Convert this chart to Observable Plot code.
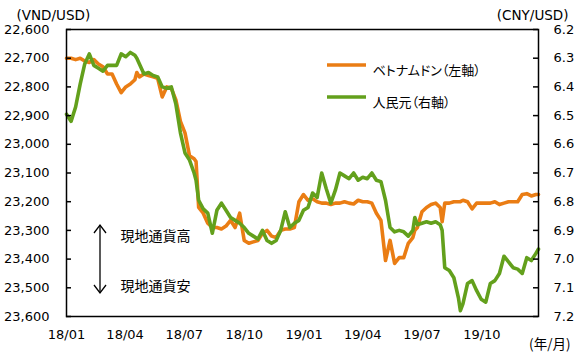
<!DOCTYPE html>
<html>
<head>
<meta charset="utf-8">
<script src="https://cdn.jsdelivr.net/npm/d3@7"></script>
<script src="https://cdn.jsdelivr.net/npm/@observablehq/plot@0.6"></script>
<style>
  html, body { margin: 0; padding: 0; background: #fff; }
  #chart { width: 579px; height: 359px; }
</style>
</head>
<body>
<div id="chart"></div>
<script>
const dates = [
  "2018-01-01","2018-01-08","2018-01-15","2018-01-22","2018-01-29",
  "2018-02-05","2018-02-12","2018-02-19","2018-02-26",
  "2018-03-05","2018-03-12","2018-03-19","2018-03-26",
  "2018-04-02","2018-04-09","2018-04-16","2018-04-19","2018-04-23","2018-04-30",
  "2018-05-07","2018-05-14","2018-05-21","2018-05-28",
  "2018-06-04","2018-06-11","2018-06-18","2018-06-25",
  "2018-07-02","2018-07-09","2018-07-16","2018-07-19","2018-07-23","2018-07-30",
  "2018-08-06","2018-08-13","2018-08-20","2018-08-27",
  "2018-09-03","2018-09-10","2018-09-17","2018-09-24",
  "2018-10-01","2018-10-08","2018-10-15","2018-10-22","2018-10-29",
  "2018-11-05","2018-11-12","2018-11-19","2018-11-26",
  "2018-12-03","2018-12-10","2018-12-17","2018-12-24","2018-12-31",
  "2019-01-07","2019-01-14","2019-01-21","2019-01-28",
  "2019-02-04","2019-02-11","2019-02-18","2019-02-25",
  "2019-03-04","2019-03-11","2019-03-18","2019-03-25",
  "2019-04-01","2019-04-08","2019-04-15","2019-04-22","2019-04-29",
  "2019-05-06","2019-05-13","2019-05-20","2019-05-27",
  "2019-06-03","2019-06-10","2019-06-17","2019-06-20","2019-06-24",
  "2019-07-01","2019-07-08","2019-07-15","2019-07-22","2019-07-29","2019-08-01",
  "2019-08-05","2019-08-12","2019-08-19","2019-08-26","2019-08-29",
  "2019-09-02","2019-09-09","2019-09-16","2019-09-23","2019-09-30",
  "2019-10-07","2019-10-14","2019-10-21","2019-10-28",
  "2019-11-04","2019-11-11","2019-11-18","2019-11-25",
  "2019-12-02","2019-12-09","2019-12-16","2019-12-23","2019-12-27"
];
// ベトナムドン (VND/USD, left axis)
const vnd = [
  22700,22700,22705,22700,22710,
  22715,22705,22720,22730,
  22755,22755,22790,22820,
  22800,22790,22775,22750,22765,22755,
  22760,22765,22770,22835,
  22800,22805,22845,22920,
  22960,23040,23050,23060,23220,23240,
  23275,23290,23290,23295,
  23285,23265,23290,23240,
  23335,23345,23340,23335,23310,
  23300,23320,23325,23300,
  23295,23295,23290,23200,23175,
  23195,23190,23200,23205,
  23205,23210,23205,23205,
  23200,23205,23208,23195,
  23200,23200,23205,23240,23265,
  23405,23335,23415,23395,
  23395,23345,23325,23300,23290,
  23235,23220,23210,23205,23220,23270,
  23205,23205,23200,23200,23200,
  23195,23200,23225,23205,23205,
  23205,23205,23200,23210,
  23205,23200,23200,23200,
  23175,23172,23180,23175,23175
];
// 人民元 (CNY/USD, right axis)
const cny = [
  6.495,6.52,6.47,6.39,6.32,
  6.285,6.325,6.335,6.345,
  6.325,6.325,6.325,6.285,
  6.295,6.28,6.29,6.30,6.32,6.355,
  6.35,6.36,6.365,6.40,
  6.405,6.40,6.46,6.56,
  6.63,6.655,6.70,6.725,6.795,6.825,
  6.84,6.91,6.83,6.805,
  6.83,6.855,6.865,6.875,
  6.89,6.91,6.92,6.93,6.90,
  6.935,6.945,6.935,6.90,
  6.835,6.89,6.875,6.865,6.83,
  6.82,6.77,6.785,6.70,
  6.755,6.805,6.76,6.70,
  6.71,6.72,6.70,6.725,
  6.715,6.72,6.70,6.725,6.73,
  6.795,6.89,6.905,6.90,
  6.905,6.92,6.90,6.855,6.88,
  6.875,6.87,6.875,6.87,6.88,6.90,
  7.03,7.04,7.065,7.135,7.18,
  7.155,7.085,7.075,7.11,7.14,
  7.15,7.085,7.075,7.05,
  6.99,7.01,7.03,7.035,
  7.05,6.995,7.005,6.98,6.965
];
const leftTicks = [22600,22700,22800,22900,23000,23100,23200,23300,23400,23500,23600];
const rightTicks = [6.2,6.3,6.4,6.5,6.6,6.7,6.8,6.9,7.0,7.1,7.2];
const xTicks = ["2018-01-01","2018-04-01","2018-07-01","2018-10-01","2019-01-01","2019-04-01","2019-07-01","2019-10-01"];
const seriesNames = ["ベトナムドン（左軸）", "人民元（右軸）"];
const unitLeft = "(VND/USD)", unitRight = "(CNY/USD)", unitX = "(年/月)";
const noteUp = "現地通貨高", noteDown = "現地通貨安";

const ORANGE = "#EA7D14", GREEN = "#63A01C";
// right axis mapping: 6.2 ↔ 22,600 ; 7.2 ↔ 23,600
const toLeft = c => 22600 + (c - 6.2) * 1000;
const fromLeft = v => 6.2 + (v - 22600) / 1000;

const parse = d3.utcParse("%Y-%m-%d");
const vndData = dates.map((d, i) => ({date: parse(d), v: vnd[i]}));
const cnyData = dates.map((d, i) => ({date: parse(d), v: cny[i]}));

const W = 579, H = 359;
const mL = 66, mR = 41, mT = 29, mB = 43;
const frameW = W - mL - mR;
const jpFont = '"Noto Sans CJK JP", sans-serif';

const chart = Plot.plot({
  width: W, height: H,
  marginLeft: mL, marginRight: mR, marginTop: mT, marginBottom: mB,
  style: {fontFamily: "DejaVu Sans", fontSize: "13px", background: "#fff", color: "#000", overflow: "visible"},
  x: {type: "utc", domain: [parse("2018-01-01"), parse("2019-12-27")], label: null},
  y: {domain: [22600, 23600], reverse: true, label: null},
  marks: [
    Plot.line(vndData, {x: "date", y: "v", stroke: ORANGE, strokeWidth: 3.6, strokeLinejoin: "round"}),
    Plot.line(cnyData, {x: "date", y: d => toLeft(d.v), stroke: GREEN, strokeWidth: 3.6, strokeLinejoin: "round"}),
    Plot.frame({stroke: "#000", strokeWidth: 1.5}),
    Plot.tickY(leftTicks, {y: d => d, insetRight: frameW - 5, stroke: "#000", strokeWidth: 1.5}),
    Plot.tickY(rightTicks, {y: d => toLeft(d), insetLeft: frameW - 5, stroke: "#000", strokeWidth: 1.5}),
    Plot.axisY(leftTicks, {anchor: "left", label: null, tickSize: 0, tickPadding: 17, tickFormat: d3.format(","), fontSize: 13}),
    Plot.axisY(rightTicks.map(toLeft), {anchor: "right", label: null, tickSize: 0, tickPadding: 15, tickFormat: d => fromLeft(d).toFixed(1), fontSize: 13}),
    Plot.axisX(xTicks.map(parse), {anchor: "bottom", label: null, tickSize: 0, tickPadding: 13, tickFormat: d3.utcFormat("%y/%m"), fontSize: 13}),
    Plot.text([unitLeft], {text: d => d, frameAnchor: "top-left", textAnchor: "start", dx: -50, dy: -19, fontSize: 13.5}),
    Plot.text([unitRight], {text: d => d, frameAnchor: "top-right", textAnchor: "end", dx: 30, dy: -19, fontSize: 13.5}),
    Plot.text([unitX], {text: d => d, frameAnchor: "bottom-right", textAnchor: "end", dx: 32, dy: 32, fontSize: 13.5, fontFamily: jpFont}),
    Plot.text([noteUp], {text: d => d, frameAnchor: "bottom-left", textAnchor: "start", dx: 54, dy: -76, fontSize: 14, fontFamily: jpFont}),
    Plot.text([noteDown], {text: d => d, frameAnchor: "bottom-left", textAnchor: "start", dx: 54, dy: -26, fontSize: 14, fontFamily: jpFont}),
    Plot.text([seriesNames[0]], {text: d => d, frameAnchor: "top-left", textAnchor: "start", dx: 306, dy: 36, fontSize: 13, fontFamily: jpFont}),
    Plot.text([seriesNames[1]], {text: d => d, frameAnchor: "top-left", textAnchor: "start", dx: 306, dy: 68, fontSize: 13, fontFamily: jpFont})
  ]
});

// legend swatches and the direction arrow (layout-only decorations)
const svg = d3.select(chart);
svg.selectAll("text").filter(function() { return /[^\x00-\x7F]/.test(this.textContent); })
  .style("font-feature-settings", '"palt"');
const deco = svg.append("g");
[[ORANGE, 65], [GREEN, 97]].forEach(([c, y]) => {
  deco.append("line").attr("x1", 327).attr("x2", 366).attr("y1", y).attr("y2", y)
    .attr("stroke", c).attr("stroke-width", 3.6);
});
const ax = 100, yTop = 225, yBot = 293;
const arrow = deco.append("g").attr("stroke", "#000").attr("stroke-width", 1.3).attr("fill", "none");
arrow.append("line").attr("x1", ax).attr("x2", ax).attr("y1", yTop).attr("y2", yBot);
arrow.append("path").attr("d", `M${ax-6},${yTop+8}L${ax},${yTop}L${ax+6},${yTop+8}`);
arrow.append("path").attr("d", `M${ax-6},${yBot-8}L${ax},${yBot}L${ax+6},${yBot-8}`);

document.getElementById("chart").appendChild(chart);
</script>
</body>
</html>
